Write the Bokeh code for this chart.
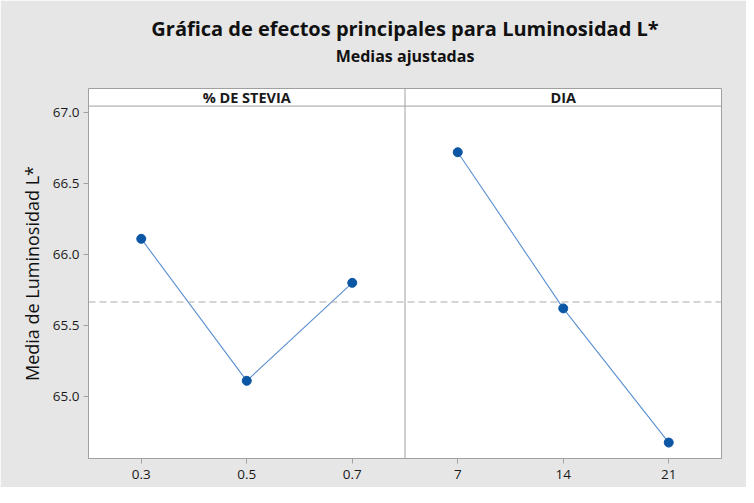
from bokeh.plotting import figure
from bokeh.models import Span, Label, FixedTicker, Range1d, LinearAxis
from bokeh.embed import file_html
from bokeh.resources import INLINE

# Data
stevia_levels = ["0.3", "0.5", "0.7"]
stevia_means = [66.11, 65.11, 65.80]
dia_levels = ["7", "14", "21"]
dia_means = [66.72, 65.62, 64.675]
overall_mean = 65.665
y_ticks = [65.0, 65.5, 66.0, 66.5, 67.0]
panel_names = ["% DE STEVIA", "DIA"]
main_title = "Gráfica de efectos principales para Luminosidad L*"
sub_title = "Medias ajustadas"

FONT = "Open Sans"
BG = "#e6e6e6"
GRAY = "#a0a0a0"
LINE_C = "#5a8fd0"
MARK_C = "#0b56a5"

y_bottom, y_plot_top, y_top = 64.5627, 67.045, 67.1688

p = figure(width=746, height=487, output_backend="svg", toolbar_location=None,
           title=main_title,
           x_range=Range1d(0.5, 6.5), y_range=Range1d(y_bottom, y_top),
           min_border_left=88, min_border_right=25, min_border_top=88, min_border_bottom=29)
p.title.align = "center"
p.title.text_font = FONT
p.title.text_font_size = "20px"
p.title.text_font_style = "bold"
p.title.text_color = "#111111"
p.title.standoff = 0

p.background_fill_color = "white"
p.border_fill_color = BG
p.outline_line_color = GRAY
p.xgrid.visible = False
p.ygrid.visible = False

# axes (styled before the extra subtitle axis is added)
bottom_axis = p.below[0]
left_axis = p.left[0]
xs_all = list(range(1, len(stevia_levels) + len(dia_levels) + 1))
bottom_axis.ticker = FixedTicker(ticks=xs_all)
bottom_axis.major_label_overrides = {i: lab for i, lab in zip(xs_all, stevia_levels + dia_levels)}
left_axis.ticker = FixedTicker(ticks=y_ticks)
left_axis.major_label_overrides = {v: f"{v:.1f}" for v in y_ticks}
for ax in (bottom_axis, left_axis):
    ax.axis_line_color = GRAY
    ax.major_tick_line_color = GRAY
    ax.minor_tick_line_color = None
    ax.major_tick_in = 0
    ax.major_tick_out = 5
    ax.major_label_text_font = FONT
    ax.major_label_text_font_size = "13.5px"
    ax.major_label_text_color = "#1a1a1a"
    ax.major_label_standoff = 4
bottom_axis.major_label_standoff = 6
left_axis.axis_label = "Media de Luminosidad L*"
left_axis.axis_label_text_font = FONT
left_axis.axis_label_text_font_size = "18px"
left_axis.axis_label_text_font_style = "normal"
left_axis.axis_label_text_color = "#111111"
left_axis.axis_label_standoff = 6

# subtitle as the label of an empty axis above the frame
sub_axis = LinearAxis(ticker=FixedTicker(ticks=[]), axis_line_color=None,
                      major_tick_line_color=None, minor_tick_line_color=None,
                      major_tick_in=0, major_tick_out=0, minor_tick_in=0, minor_tick_out=0,
                      major_label_standoff=0, major_label_text_font_size="0px",
                      axis_label=sub_title, axis_label_text_font=FONT,
                      axis_label_text_font_size="16px", axis_label_text_font_style="bold",
                      axis_label_text_color="#111111", axis_label_standoff=22)
p.add_layout(sub_axis, "above")

# reference line
p.add_layout(Span(location=overall_mean, dimension="width", line_color="#aaaaaa",
                  line_dash="7 4", line_width=1))

# data lines
x1 = [1, 2, 3]
x2 = [4, 5, 6]
for xs, ys in ((x1, stevia_means), (x2, dia_means)):
    p.line(xs, ys, line_color=LINE_C, line_width=1.1)
    p.scatter(xs, ys, size=9, fill_color=MARK_C, line_color=MARK_C)

# panel divider and header strip
p.add_layout(Span(location=3.5, dimension="height", line_color=GRAY, line_width=1))
p.add_layout(Span(location=y_plot_top, dimension="width", line_color=GRAY, line_width=1))
for cx, name in zip([2, 5], panel_names):
    p.add_layout(Label(x=cx, y=(y_plot_top + y_top) / 2, text=name, text_align="center",
                       text_baseline="middle", text_font=FONT, text_font_size="14.5px",
                       text_font_style="bold", text_color="#1a1a1a"))

open("out.html", "w").write(file_html(p, INLINE))
